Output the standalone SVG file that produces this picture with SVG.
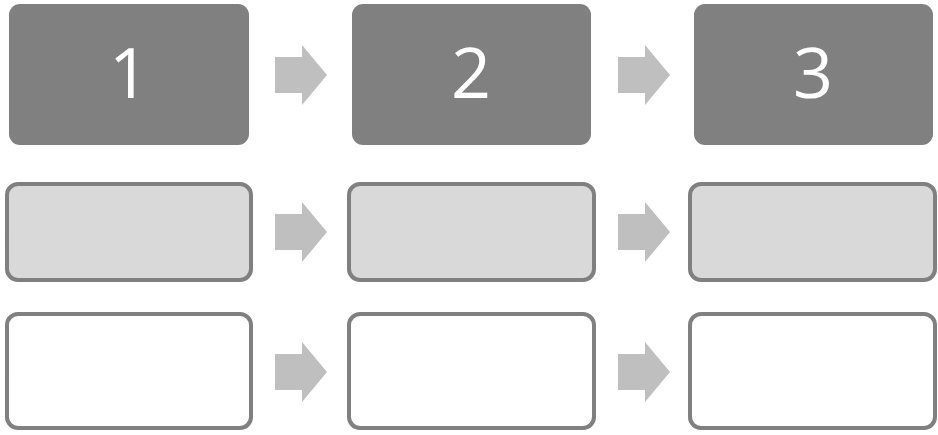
<svg xmlns="http://www.w3.org/2000/svg" width="938" height="435" viewBox="0 0 938 435">
<style>
.head{fill:#808080}
.num{fill:#fff;font-family:"Open Sans","Liberation Sans",sans-serif;font-size:70px;text-anchor:middle}
.mid{fill:#d9d9d9;stroke:#808080;stroke-width:4}
.low{fill:#fff;stroke:#808080;stroke-width:4}
.arr{fill:#bfbfbf}
</style>
<defs>
<path id="arrow" d="M0,-18 H27 V-30 L52,0 L27,30 V18 H0 Z"/>
</defs>
<rect width="938" height="435" fill="#fff"/>
<g id="n1"><rect class="head" x="9" y="4" width="240" height="141" rx="11"/><text class="num" x="129" y="98">1</text></g>
<g id="n2"><rect class="head" x="352" y="4" width="239" height="141" rx="11"/><text class="num" x="471" y="98">2</text></g>
<g id="n3"><rect class="head" x="694" y="4" width="239" height="141" rx="11"/><text class="num" x="813" y="98">3</text></g>
<g id="m1"><rect class="mid" x="7" y="184" width="244" height="96" rx="11"/></g>
<g id="m2"><rect class="mid" x="349" y="184" width="245" height="96" rx="11"/></g>
<g id="m3"><rect class="mid" x="690" y="184" width="245" height="96" rx="11"/></g>
<g id="l1"><rect class="low" x="7" y="314" width="244" height="114" rx="11"/></g>
<g id="l2"><rect class="low" x="349" y="314" width="245" height="114" rx="11"/></g>
<g id="l3"><rect class="low" x="690" y="314" width="245" height="114" rx="11"/></g>
<g id="connectors" class="arr">
<use href="#arrow" x="275" y="75"/>
<use href="#arrow" x="618" y="75"/>
<use href="#arrow" x="275" y="232"/>
<use href="#arrow" x="618" y="232"/>
<use href="#arrow" x="275" y="372"/>
<use href="#arrow" x="618" y="372"/>
</g>
</svg>
